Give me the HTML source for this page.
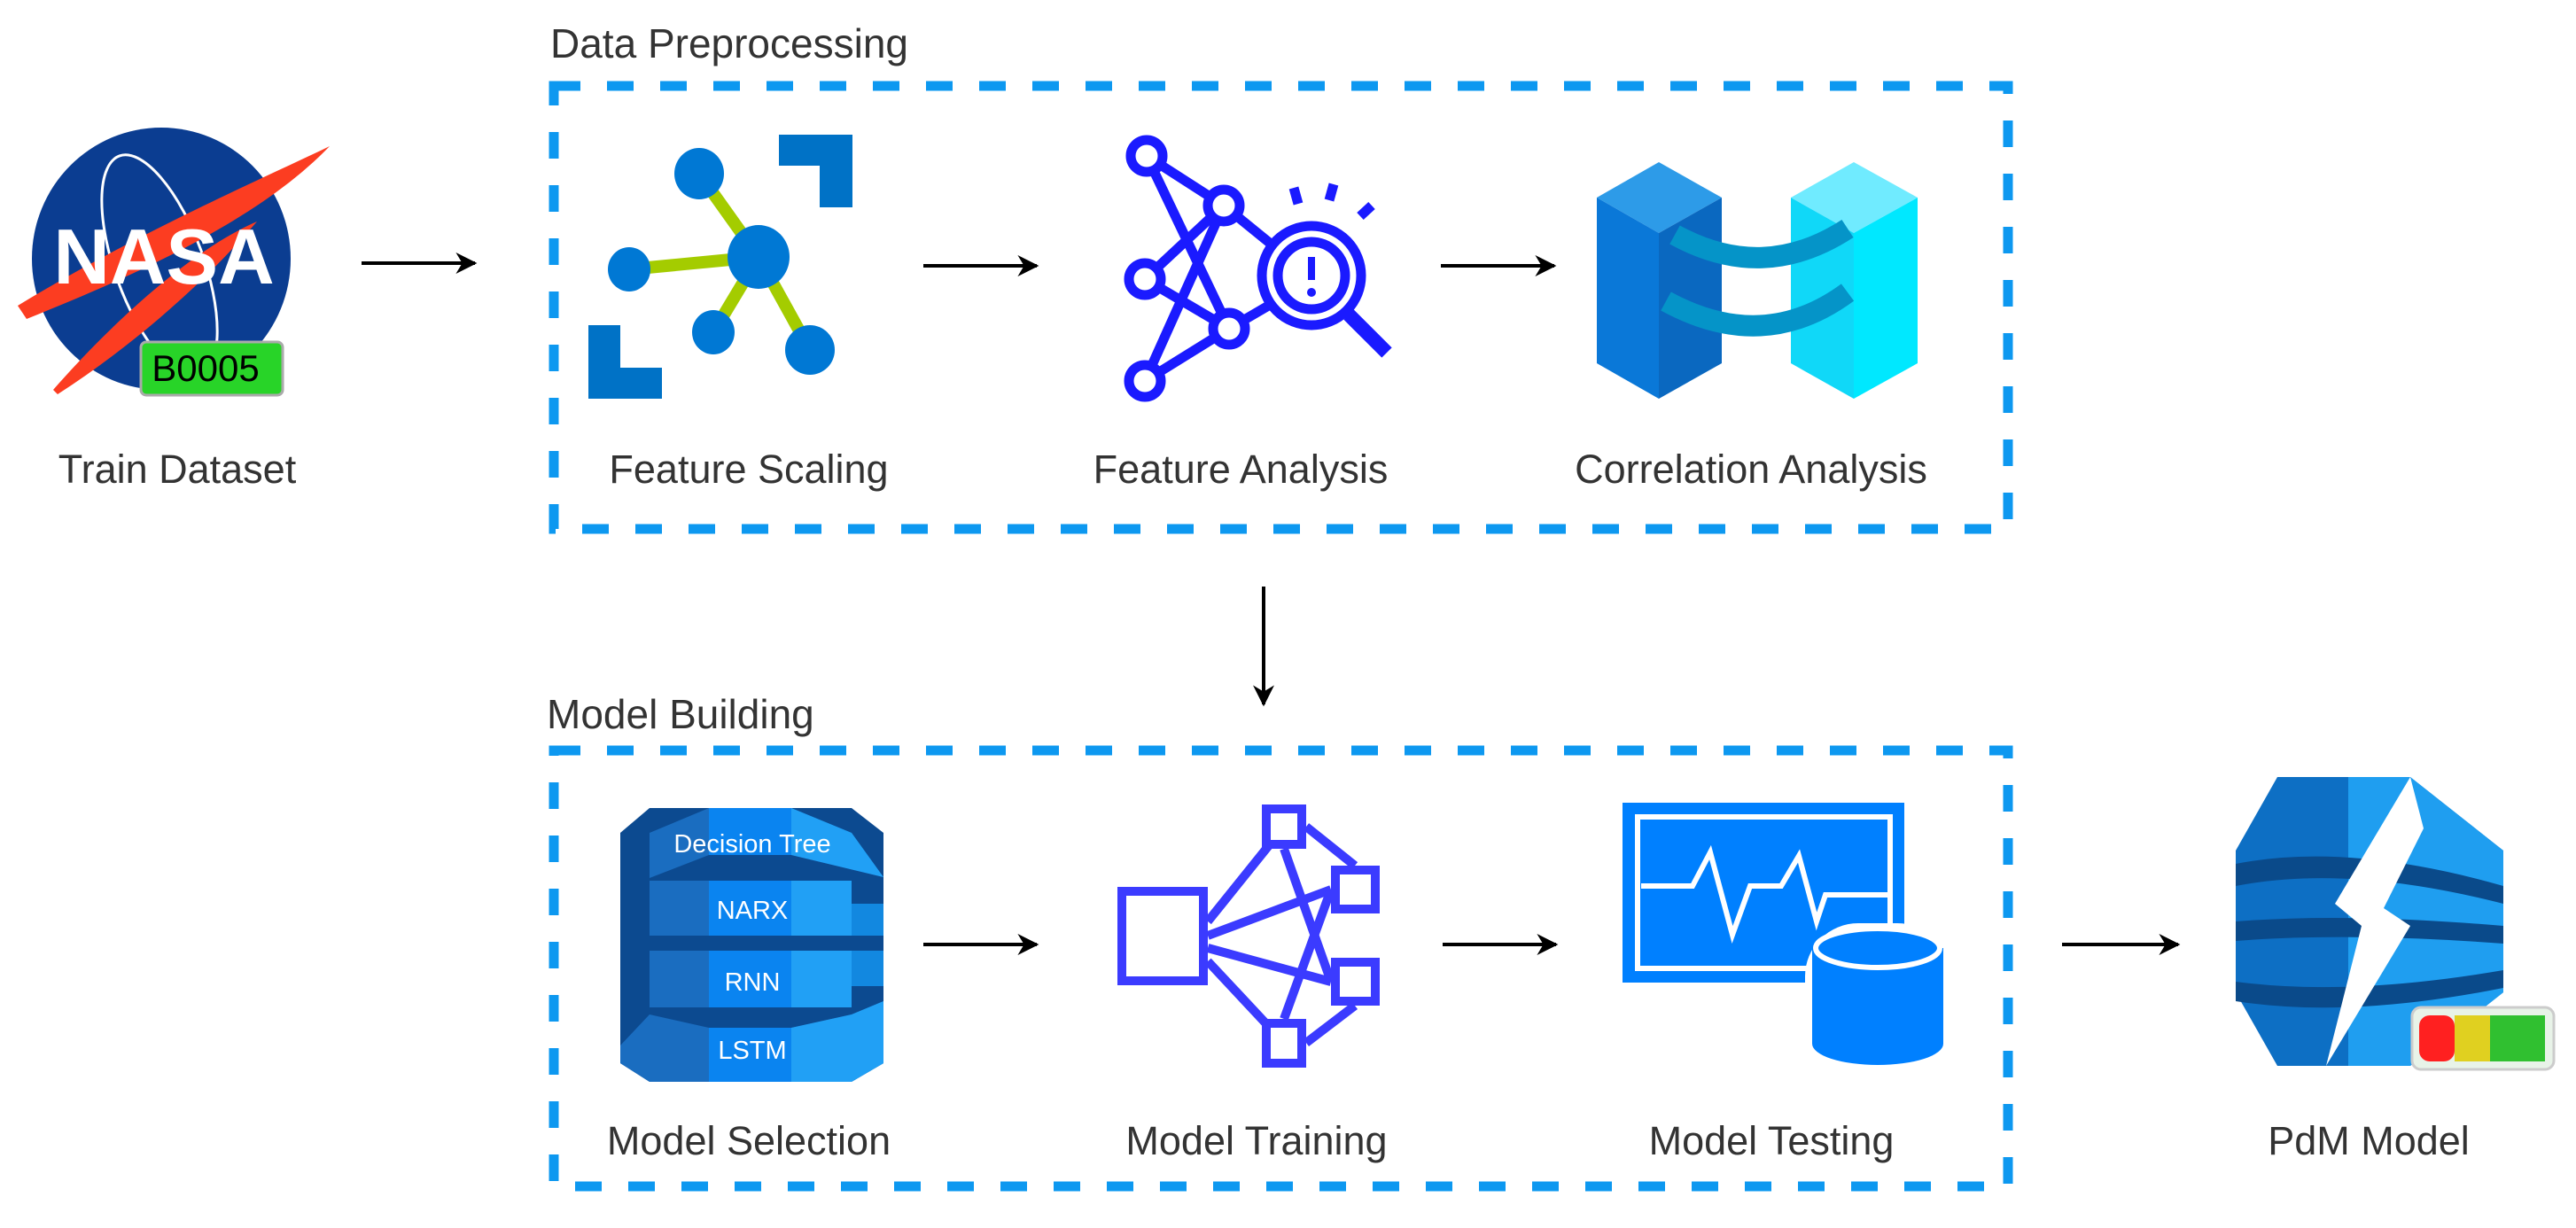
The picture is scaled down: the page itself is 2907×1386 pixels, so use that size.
<!DOCTYPE html>
<html><head><meta charset="utf-8"><style>
html,body{margin:0;padding:0;background:#fff}
svg{display:block}
text{font-family:"Liberation Sans",sans-serif}
.lb{font-size:45px;fill:#333;text-anchor:middle}
</style></head><body>
<svg width="2907" height="1386" viewBox="0 0 2907 1386" xmlns="http://www.w3.org/2000/svg">
<defs>
<marker id="ah" viewBox="0 0 10 10" refX="9" refY="5" markerWidth="6" markerHeight="6" orient="auto"><path d="M0,0 L10,5 L0,10 L3,5 z" fill="#000"/></marker>
</defs>

<!-- NASA -->
<ellipse cx="182" cy="292" rx="146" ry="148" fill="#0b3d91"/>
<ellipse cx="180" cy="300" rx="50" ry="132" fill="none" stroke="#fff" stroke-width="3" transform="rotate(-20 180 300)"/>
<path d="M20,345 C160,260 300,200 372,165 C300,240 180,300 30,360 z" fill="#fc3d21"/>
<path d="M60,440 C130,360 220,280 290,250 C230,320 150,390 65,445 z" fill="#fc3d21"/>
<text x="185" y="320" font-size="88" font-weight="bold" fill="#fff" text-anchor="middle">NASA</text>
<rect x="159" y="386" width="160" height="60" rx="6" fill="#28d428" stroke="#aaa" stroke-width="3"/>
<text x="232" y="430" font-size="42" fill="#000" text-anchor="middle">B0005</text>
<text class="lb" x="200" y="545">Train Dataset</text>

<!-- arrows -->
<g stroke="#000" stroke-width="4" marker-end="url(#ah)">
<line x1="408" y1="297" x2="536" y2="297"/>
<line x1="1042" y1="300" x2="1170" y2="300"/>
<line x1="1626" y1="300" x2="1754" y2="300"/>
<line x1="1426" y1="662" x2="1426" y2="795"/>
<line x1="1042" y1="1066" x2="1170" y2="1066"/>
<line x1="1628" y1="1066" x2="1756" y2="1066"/>
<line x1="2327" y1="1066" x2="2458" y2="1066"/>
</g>

<!-- boxes -->
<rect x="625" y="97" width="1641" height="500" fill="none" stroke="#0d98f0" stroke-width="11" stroke-dasharray="30,30"/>
<rect x="625" y="847" width="1641" height="492" fill="none" stroke="#0d98f0" stroke-width="11" stroke-dasharray="30,30"/>
<text x="621" y="65" font-size="46" fill="#333">Data Preprocessing</text>
<text x="617" y="822" font-size="46" fill="#333">Model Building</text>

<!-- Feature Scaling -->
<g stroke="#a4cc00" stroke-width="14"><line x1="789" y1="196" x2="856" y2="290"/><line x1="710" y1="304" x2="856" y2="290"/><line x1="805" y1="375" x2="856" y2="290"/><line x1="914" y1="395" x2="856" y2="290"/></g>
<g fill="#0078d4"><ellipse cx="789" cy="196" rx="28" ry="29"/><ellipse cx="856" cy="290" rx="35" ry="36"/><ellipse cx="710" cy="304" rx="24" ry="25"/><ellipse cx="805" cy="375" rx="24" ry="25"/><ellipse cx="914" cy="395" rx="28" ry="28"/></g>
<path d="M879,152 H962 V234 H925 V187 H879 z" fill="#0072c6"/>
<path d="M664,367 H700 V415 H747 V450 H664 z" fill="#0072c6"/>
<text class="lb" x="845" y="545">Feature Scaling</text>

<!-- Feature Analysis -->
<g stroke="#1a1aff" stroke-width="11" fill="none">
<line x1="1294" y1="176" x2="1381" y2="232"/><line x1="1294" y1="176" x2="1387" y2="371"/>
<line x1="1381" y1="232" x2="1292" y2="315"/><line x1="1381" y1="232" x2="1292" y2="430"/>
<line x1="1292" y1="315" x2="1387" y2="371"/><line x1="1387" y1="371" x2="1292" y2="430"/>
<line x1="1381" y1="232" x2="1440" y2="280"/><line x1="1387" y1="371" x2="1440" y2="340"/>
<circle cx="1294" cy="176" r="18" fill="#fff"/><circle cx="1381" cy="232" r="18" fill="#fff"/><circle cx="1292" cy="315" r="18" fill="#fff"/><circle cx="1387" cy="371" r="18" fill="#fff"/><circle cx="1292" cy="430" r="18" fill="#fff"/>
<circle cx="1480" cy="311" r="56" fill="#fff"/><circle cx="1480" cy="311" r="38"/>
<line x1="1522" y1="355" x2="1565" y2="398" stroke-width="16"/>
<line x1="1465" y1="230" x2="1460" y2="212"/><line x1="1500" y1="226" x2="1505" y2="208"/><line x1="1535" y1="244" x2="1548" y2="232"/>
</g>
<line x1="1480" y1="290" x2="1480" y2="316" stroke="#1a1aff" stroke-width="8"/><circle cx="1480" cy="330" r="5" fill="#1a1aff"/>
<text class="lb" x="1400" y="545">Feature Analysis</text>

<!-- Correlation -->
<path d="M1802,223 L1872,183 L1943,223 L1872,263 z" fill="#2d9be8"/>
<path d="M1802,223 L1872,263 L1872,450 L1802,410 z" fill="#0a78d8"/>
<path d="M1872,263 L1943,223 L1943,410 L1872,450 z" fill="#0a68c0"/>
<path d="M2021,223 L2092,183 L2164,223 L2092,263 z" fill="#70ebff"/>
<path d="M2021,223 L2092,263 L2092,450 L2021,410 z" fill="#10d8f8"/>
<path d="M2092,263 L2164,223 L2164,410 L2092,450 z" fill="#00e8ff"/>
<path d="M1890,265 Q1990,320 2085,258" fill="none" stroke="#0594c8" stroke-width="24"/>
<path d="M1880,340 Q1990,400 2085,330" fill="none" stroke="#0594c8" stroke-width="24"/>
<text class="lb" x="1976" y="545">Correlation Analysis</text>

<!-- Model Selection -->
<path d="M733,912 H961 L997,940 V1200 L961,1221 H733 L700,1200 V940 z" fill="#0c4a90"/>
<g>
<path d="M733,940 L800,912 H893 L961,940 L997,990 L893,965 H800 L733,991 z" fill="#1a6dc0"/>
<rect x="800" y="912" width="93" height="53" fill="#0a84f0"/><path d="M893,912 L961,940 L997,990 L893,965 z" fill="#21a0f5"/>
<rect x="733" y="994" width="67" height="62" fill="#1a6dc0"/><rect x="800" y="994" width="93" height="62" fill="#0a84f0"/><rect x="893" y="994" width="68" height="62" fill="#21a0f5"/><rect x="961" y="1020" width="36" height="36" fill="#1288e0"/>
<rect x="733" y="1073" width="67" height="64" fill="#1a6dc0"/><rect x="800" y="1073" width="93" height="64" fill="#0a84f0"/><rect x="893" y="1073" width="68" height="64" fill="#21a0f5"/><rect x="961" y="1073" width="36" height="40" fill="#1288e0"/>
<path d="M733,1145 L800,1160 H893 L961,1145 L997,1130 V1200 L961,1221 H733 L700,1200 V1180 z" fill="#1a6dc0"/>
<rect x="800" y="1160" width="93" height="61" fill="#0a84f0"/><path d="M893,1160 L961,1145 L997,1130 V1200 L961,1221 H893 z" fill="#21a0f5"/>
</g>
<g fill="#fff" font-size="29" text-anchor="middle"><text x="849" y="962">Decision Tree</text><text x="849" y="1037">NARX</text><text x="849" y="1118">RNN</text><text x="849" y="1195">LSTM</text></g>
<text class="lb" x="845" y="1303">Model Selection</text>

<!-- Model Training -->
<g stroke="#3b3bff" stroke-width="10" fill="none">
<line x1="1363" y1="1040" x2="1449" y2="933"/><line x1="1363" y1="1056" x2="1502" y2="1004"/><line x1="1363" y1="1070" x2="1502" y2="1108"/><line x1="1363" y1="1085" x2="1449" y2="1177"/>
<line x1="1449" y1="958" x2="1502" y2="1108"/><line x1="1449" y1="1150" x2="1502" y2="1004"/><line x1="1474" y1="933" x2="1529" y2="977"/><line x1="1474" y1="1177" x2="1529" y2="1135"/>
<rect x="1266" y="1006" width="92" height="101" fill="#fff"/><rect x="1429" y="913" width="40" height="40" fill="#fff"/><rect x="1507" y="982" width="45" height="44" fill="#fff"/><rect x="1507" y="1086" width="45" height="44" fill="#fff"/><rect x="1429" y="1155" width="40" height="45" fill="#fff"/>
</g>
<text class="lb" x="1418" y="1303">Model Training</text>

<!-- Model Testing -->
<rect x="1831" y="906" width="318" height="203" fill="#0080ff"/>
<rect x="1848" y="922" width="285" height="171" fill="none" stroke="#fff" stroke-width="6"/>
<polyline points="1852,1000 1910,1000 1930,962 1955,1055 1975,1000 2010,1000 2030,966 2050,1040 2060,1010 2130,1010" fill="none" stroke="#fff" stroke-width="6"/>
<rect x="2037" y="1042" width="164" height="166" rx="60" fill="#fff"/>
<path d="M2045,1070 V1178 A74,24 0 0 0 2193,1178 V1070 z" fill="#0080ff"/>
<ellipse cx="2119" cy="1070" rx="70" ry="22" fill="#0080ff" stroke="#fff" stroke-width="6"/>
<text class="lb" x="1999" y="1303">Model Testing</text>

<!-- PdM -->
<path d="M2570,877 H2720 L2825,960 V1120 L2720,1203 H2570 L2523,1120 V960 z" fill="#0d6fc4"/>
<path d="M2650,877 H2720 L2825,960 V1120 L2720,1203 H2650 z" fill="#1f9ef0"/>
<g fill="#0a4a8a"><path d="M2523,975 Q2650,950 2825,1000 V1020 Q2650,975 2523,1000 z"/><path d="M2523,1040 Q2650,1030 2825,1045 V1065 Q2650,1052 2523,1062 z"/><path d="M2523,1108 Q2650,1125 2825,1095 V1115 Q2650,1150 2523,1130 z"/></g>
<path d="M2720,877 L2635,1020 L2665,1045 L2625,1203 L2720,1045 L2690,1025 L2735,935 z" fill="#fff"/>
<rect x="2722" y="1137" width="160" height="70" rx="10" fill="#e8f3e8" stroke="#ccc" stroke-width="3"/>
<rect x="2730" y="1146" width="40" height="52" rx="12" fill="#ff2020"/><rect x="2770" y="1146" width="40" height="52" fill="#e0d020"/><rect x="2810" y="1146" width="62" height="52" fill="#30c030"/>
<text class="lb" x="2673" y="1303">PdM Model</text>
</svg>
</body></html>
